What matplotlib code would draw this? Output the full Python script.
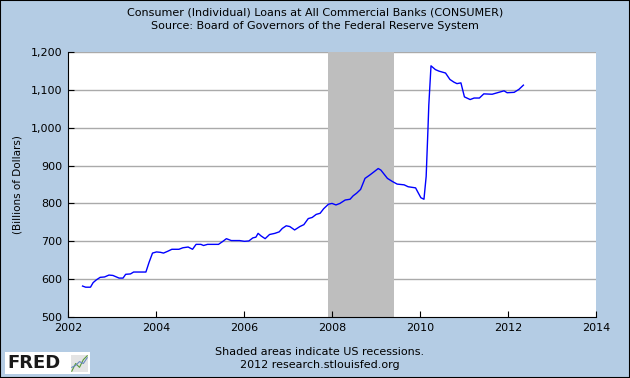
import numpy as np
import matplotlib
matplotlib.use("Agg")
import matplotlib.pyplot as plt
from matplotlib.patches import Rectangle

# data (decimal year, billions of dollars)
years = [2002.33, 2002.40, 2002.51, 2002.57, 2002.64, 2002.73, 2002.83, 2002.93,
         2003.02, 2003.16, 2003.25, 2003.31, 2003.42, 2003.49, 2003.77, 2003.84,
         2003.92, 2004.01, 2004.10, 2004.17, 2004.27, 2004.36, 2004.52, 2004.61,
         2004.73, 2004.83, 2004.91, 2005.02, 2005.08, 2005.17, 2005.42, 2005.52,
         2005.60, 2005.71, 2005.90, 2006.01, 2006.11, 2006.20, 2006.27, 2006.32,
         2006.39, 2006.48, 2006.58, 2006.70, 2006.80, 2006.87, 2006.96, 2007.04,
         2007.15, 2007.27, 2007.36, 2007.46, 2007.55, 2007.64, 2007.73, 2007.81,
         2007.92, 2008.00, 2008.09, 2008.18, 2008.30, 2008.41, 2008.48, 2008.56,
         2008.65, 2008.75, 2008.86, 2008.95, 2009.05, 2009.11, 2009.26, 2009.37,
         2009.48, 2009.64, 2009.73, 2009.90, 2009.95, 2010.02, 2010.09, 2010.14,
         2010.18, 2010.20, 2010.25, 2010.35, 2010.43, 2010.58, 2010.68, 2010.77,
         2010.84, 2010.93, 2011.01, 2011.14, 2011.23, 2011.35, 2011.45, 2011.64,
         2011.79, 2011.91, 2011.98, 2012.14, 2012.25, 2012.35]
loans = [582, 579, 579, 591, 598, 605, 606, 611,
         610, 603, 603, 613, 614, 619, 619, 644,
         669, 672, 671, 669, 674, 679, 679, 683,
         685, 679, 692, 692, 689, 692, 692, 700,
         707, 702, 702, 700, 701, 709, 711, 721,
         714, 707, 718, 721, 725, 734, 741, 739,
         730, 739, 744, 760, 763, 771, 774, 786,
         798, 800, 796, 800, 809, 811, 820, 827,
         837, 866, 875, 883, 892, 888, 866, 858,
         851, 849, 844, 841, 830, 815, 811, 871,
         993, 1059, 1163, 1153, 1149, 1144, 1127, 1120,
         1116, 1118, 1081, 1074, 1078, 1078, 1089, 1088,
         1093, 1097, 1092, 1093, 1101, 1112]
recession = [2007.917, 2009.417]
xticks = [2002, 2004, 2006, 2008, 2010, 2012, 2014]
yticks = [500, 600, 700, 800, 900, 1000, 1100, 1200]

bg = "#b4cce4"
fig = plt.figure(figsize=(6.3, 3.78), dpi=100, facecolor=bg)
fig.patches.append(Rectangle((0, 0), 1, 1, transform=fig.transFigure, fill=False,
                             edgecolor="black", linewidth=1.5))

ax = fig.add_axes([0.108, 0.161, 0.838, 0.702])
ax.set_facecolor("white")
ax.axvspan(recession[0], recession[1], color="#bebebe", zorder=1, lw=0)
for y in yticks[1:]:
    ax.axhline(y, color="#aaaaaa", lw=1, zorder=0.5)
ax.plot(years, loans, color="#0000ff", lw=1, zorder=3)

ax.set_xlim(2002, 2014)
ax.set_ylim(500, 1200)
ax.set_xticks(xticks)
ax.set_yticks(yticks)
ax.set_yticklabels([f"{v:,}" for v in yticks])
ax.tick_params(direction="in", length=4, labelsize=8, color="black", pad=4)
ax.spines["top"].set_visible(False)
ax.spines["right"].set_visible(False)
ax.set_ylabel("(Billions of Dollars)", fontsize=7.5, labelpad=6)

fig.text(0.5, 0.967, "Consumer (Individual) Loans at All Commercial Banks (CONSUMER)",
         ha="center", va="center", fontsize=8)
fig.text(0.5, 0.930, "Source: Board of Governors of the Federal Reserve System",
         ha="center", va="center", fontsize=8)
fig.text(0.508, 0.069, "Shaded areas indicate US recessions.",
         ha="center", va="center", fontsize=8)
fig.text(0.508, 0.034, "2012 research.stlouisfed.org",
         ha="center", va="center", fontsize=8)

# FRED logo
fig.patches.append(Rectangle((5 / 630, 4 / 378), 85 / 630, 22 / 378,
                             transform=fig.transFigure, facecolor="white",
                             edgecolor="none", zorder=1))
fig.text(7 / 630, 15 / 378, "FRED", fontsize=13, fontweight="heavy", ha="left",
         va="center", color="#1a1a1a", zorder=2)
icon = fig.add_axes([71 / 630, 6 / 378, 17 / 630, 17 / 378], zorder=3)
icon.set_facecolor("#e4e4e4")
icon.plot([0, 1, 2, 3, 4], [0, 2, 1, 3, 4], color="#5a9a3a", lw=0.8)
icon.plot([0, 1, 2, 3, 4], [1, 1.5, 2.5, 2, 3.5], color="#6a8ac0", lw=0.8)
icon.set_xticks([])
icon.set_yticks([])
for s in icon.spines.values():
    s.set_visible(False)

fig.savefig("out.png", dpi=100, facecolor=bg)
